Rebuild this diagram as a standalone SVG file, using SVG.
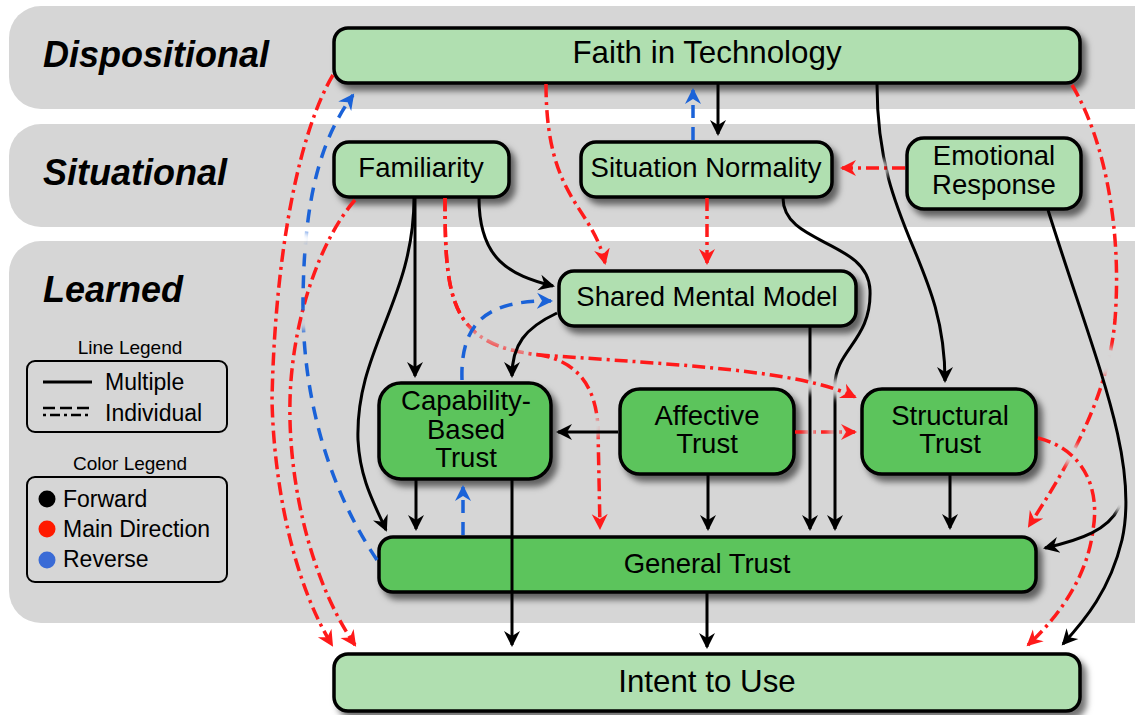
<svg xmlns="http://www.w3.org/2000/svg" width="1135" height="715" viewBox="0 0 1135 715">
<style>
.bandr{fill:#d6d6d6}
.band{font-family:"Liberation Sans",Arial,sans-serif;font-weight:bold;font-style:italic;font-size:36px;fill:#000}
.n{font-family:"Liberation Sans",Arial,sans-serif;font-size:27.5px;text-anchor:middle;fill:#000}
.big{font-size:31.3px}
.lt{font-family:"Liberation Sans",Arial,sans-serif;font-size:19px;text-anchor:middle;fill:#000}
.li{font-family:"Liberation Sans",Arial,sans-serif;font-size:23px;fill:#000}
.lbox{fill:none;stroke:#000;stroke-width:2}
.light{fill:#b0dfb0;stroke:#000;stroke-width:3.5;filter:url(#sh)}
.dark{fill:#5cc45c;stroke:#000;stroke-width:3.5;filter:url(#sh)}
.k{fill:none;stroke:#000;stroke-width:3;marker-end:url(#ak)}
.r{fill:none;stroke:#ff1a1a;stroke-width:3.5;stroke-dasharray:13 5 3 5;marker-end:url(#ar)}
.b{fill:none;stroke:#1a62d8;stroke-width:3.5;stroke-dasharray:13 9;marker-end:url(#ab)}
.hole{fill:#000}
.mw{fill:#fff}
</style>
<defs>
<filter id="sh" x="-10%" y="-20%" width="130%" height="160%">
<feDropShadow dx="5" dy="6" stdDeviation="3" flood-color="#000" flood-opacity="0.55"/>
</filter>
<filter id="fb" filterUnits="userSpaceOnUse" x="0" y="0" width="1135" height="715">
<feGaussianBlur stdDeviation="3.5"/>
</filter>
<marker id="ak" markerUnits="userSpaceOnUse" viewBox="0 -9 18 18" markerWidth="18" markerHeight="18" refX="14" refY="0" orient="auto"><path d="M0,-8 L16,0 L0,8 L5,0 Z" fill="#000"/></marker>
<marker id="ar" markerUnits="userSpaceOnUse" viewBox="0 -9 18 18" markerWidth="18" markerHeight="18" refX="14" refY="0" orient="auto"><path d="M0,-8 L16,0 L0,8 L5,0 Z" fill="#ff1a1a"/></marker>
<marker id="ab" markerUnits="userSpaceOnUse" viewBox="0 -9 18 18" markerWidth="18" markerHeight="18" refX="14" refY="0" orient="auto"><path d="M0,-8 L16,0 L0,8 L5,0 Z" fill="#1a62d8"/></marker>
<mask id="mFS" maskUnits="userSpaceOnUse" x="0" y="0" width="1135" height="715">
<rect class="mw" width="1135" height="715"/>
<g filter="url(#fb)"><circle class="hole" cx="879" cy="169" r="10"/></g>
</mask>
<mask id="mB1" maskUnits="userSpaceOnUse" x="0" y="0" width="1135" height="715">
<rect class="mw" width="1135" height="715"/>
<g filter="url(#fb)"><circle class="hole" cx="304" cy="240" r="10"/><circle class="hole" cx="304" cy="322" r="9"/></g>
</mask>
<mask id="mR8" maskUnits="userSpaceOnUse" x="0" y="0" width="1135" height="715">
<rect class="mw" width="1135" height="715"/>
<g filter="url(#fb)"><path d="M466,331 L526,352" stroke="#3a3a3a" stroke-width="14" stroke-linecap="round" fill="none"/></g>
</mask>
<mask id="mR9" maskUnits="userSpaceOnUse" x="0" y="0" width="1135" height="715">
<rect class="mw" width="1135" height="715"/>
<g filter="url(#fb)"><path d="M466,331 L526,352" stroke="#3a3a3a" stroke-width="14" stroke-linecap="round" fill="none"/><circle class="hole" cx="595" cy="427" r="10"/></g>
</mask>
<mask id="mL9" maskUnits="userSpaceOnUse" x="0" y="0" width="1135" height="715">
<rect class="mw" width="1135" height="715"/>
<g filter="url(#fb)"><circle class="hole" cx="810" cy="384" r="9"/></g>
</mask>
<mask id="mL10" maskUnits="userSpaceOnUse" x="0" y="0" width="1135" height="715">
<rect class="mw" width="1135" height="715"/>
<g filter="url(#fb)"><circle class="hole" cx="837" cy="388" r="10"/></g>
</mask>
<mask id="mR10" maskUnits="userSpaceOnUse" x="0" y="0" width="1135" height="715">
<rect class="mw" width="1135" height="715"/>
<g filter="url(#fb)"><circle class="hole" cx="810" cy="432" r="6"/><circle class="hole" cx="835" cy="432" r="6"/></g>
</mask>
<mask id="mR6" maskUnits="userSpaceOnUse" x="0" y="0" width="1135" height="715">
<rect class="mw" width="1135" height="715"/>
<g filter="url(#fb)"><circle class="hole" cx="1106" cy="362" r="15"/><circle class="hole" cx="1072" cy="455" r="11"/></g>
</mask>
<mask id="mL4" maskUnits="userSpaceOnUse" x="0" y="0" width="1135" height="715">
<rect class="mw" width="1135" height="715"/>
<g filter="url(#fb)"><circle class="hole" cx="1121" cy="502" r="11"/></g>
</mask>
</defs>
<rect width="1135" height="715" fill="#fff"/>
<g id="bands">
<rect class="bandr" x="9" y="6" width="1160" height="103" rx="32"/>
<rect class="bandr" x="9" y="124" width="1160" height="103" rx="32"/>
<rect class="bandr" x="9" y="241" width="1160" height="382" rx="32"/>
<text class="band" x="43" y="67">Dispositional</text>
<text class="band" x="43" y="185">Situational</text>
<text class="band" x="43" y="302">Learned</text>
</g>
<g id="legend">
<text class="lt" x="130" y="354">Line Legend</text>
<rect class="lbox" x="27" y="361" width="200" height="71" rx="8"/>
<line x1="43" y1="382" x2="92" y2="382" stroke="#000" stroke-width="3"/>
<text class="li" x="105" y="390">Multiple</text>
<line x1="43" y1="408" x2="92" y2="408" stroke="#000" stroke-width="2.5" stroke-dasharray="12 5"/>
<line x1="43" y1="415" x2="92" y2="415" stroke="#000" stroke-width="2.5" stroke-dasharray="3 4 10 4"/>
<text class="li" x="105" y="421">Individual</text>
<text class="lt" x="130" y="470">Color Legend</text>
<rect class="lbox" x="27" y="477" width="200" height="105" rx="8"/>
<circle cx="47" cy="499" r="8.5" fill="#000"/>
<text class="li" x="63" y="507">Forward</text>
<circle cx="47" cy="529" r="8.5" fill="#ff1a00"/>
<text class="li" x="63" y="537">Main Direction</text>
<circle cx="47" cy="560" r="8.5" fill="#3a6bd6"/>
<text class="li" x="63" y="567">Reverse</text>
</g>
<g id="node-faith">
<rect class="light" x="334" y="28" width="746" height="55" rx="14"/>
<text class="n big" x="707" y="63">Faith in Technology</text>
</g>
<g id="node-familiarity">
<rect class="light" x="334" y="142" width="175" height="55" rx="15"/>
<text class="n" x="421" y="177">Familiarity</text>
</g>
<g id="node-situation-normality">
<rect class="light" x="581" y="142" width="251" height="55" rx="15"/>
<text class="n" x="706" y="177">Situation Normality</text>
</g>
<g id="node-emotional-response">
<rect class="light" x="907" y="138" width="174" height="71" rx="17"/>
<text class="n" x="994" y="165">Emotional</text>
<text class="n" x="994" y="194">Response</text>
</g>
<g id="node-shared-mental-model">
<rect class="light" x="559" y="271" width="297" height="55" rx="15"/>
<text class="n" x="707" y="306">Shared Mental Model</text>
</g>
<g id="node-capability">
<rect class="dark" x="379" y="383" width="172" height="96" rx="22"/>
<text class="n" x="466" y="410">Capability-</text>
<text class="n" x="466" y="439">Based</text>
<text class="n" x="466" y="467">Trust</text>
</g>
<g id="node-affective">
<rect class="dark" x="620" y="389" width="174" height="85" rx="20"/>
<text class="n" x="707" y="425">Affective</text>
<text class="n" x="707" y="453">Trust</text>
</g>
<g id="node-structural">
<rect class="dark" x="862" y="389" width="174" height="85" rx="20"/>
<text class="n" x="950" y="425">Structural</text>
<text class="n" x="950" y="453">Trust</text>
</g>
<g id="node-general">
<rect class="dark" x="379" y="537" width="657" height="55" rx="14"/>
<text class="n" x="707" y="573">General Trust</text>
</g>
<g id="node-intent">
<rect class="light" x="334" y="654" width="746" height="57" rx="14"/>
<text class="n big" x="707" y="692">Intent to Use</text>
</g>
<g id="connectors">
<path class="r" d="M333,75 C300,130 275,250 272,400 C274,490 295,585 332,645"/>
<path class="r" d="M355,200 C320,240 292,320 290,400 C288,480 310,580 355,645"/>
<path class="r" d="M546,84 C546,200 592,205 605,263"/>
<path class="r" d="M707,198 L707,263"/>
<path class="r" d="M905,168 L842,168"/>
<path class="r" mask="url(#mR6)" d="M1072,85 C1105,140 1122,230 1115,320 C1108,400 1065,470 1029,526"/>
<path class="r" d="M1038,438 C1085,450 1100,490 1093,530 C1087,580 1055,620 1028,645"/>
<path class="r" mask="url(#mR8)" d="M445,198 C445,300 450,345 540,355 C680,365 800,370 855,397"/>
<path class="r" mask="url(#mR9)" d="M445,198 C445,300 450,345 540,355 C580,362 597,390 598,430 L600,528"/>
<path class="r" mask="url(#mR10)" d="M795,432 L855,432"/>
<path class="b" mask="url(#mB1)" d="M377,560 C330,490 302,400 303,300 C304,200 320,140 353,95"/>
<path class="b" d="M462,380 C460,320 490,300 551,301"/>
<path class="b" d="M463,535 L463,487"/>
<path class="b" d="M693,140 L693,90"/>
<path class="k" d="M718,84 L718,134"/>
<path class="k" mask="url(#mFS)" d="M877,84 C877,230 945,260 945,381"/>
<path class="k" d="M1048,210 C1095,360 1140,460 1122,540 C1110,590 1085,620 1063,644"/>
<path class="k" mask="url(#mL4)" d="M1120,505 C1110,530 1080,540 1045,548"/>
<path class="k" d="M415,198 L415,376"/>
<path class="k" d="M414,198 C414,300 355,350 358,440 C360,480 375,505 386,530"/>
<path class="k" d="M479,198 C479,260 510,275 553,286"/>
<path class="k" d="M557,313 C525,328 512,345 512,376"/>
<path class="k" mask="url(#mL9)" d="M810,327 L810,529"/>
<path class="k" mask="url(#mL10)" d="M783,198 C783,245 868,240 870,290 C872,340 835,350 835,385 L835,529"/>
<path class="k" d="M416,480 L416,529"/>
<path class="k" d="M512,480 L512,645"/>
<path class="k" d="M618,432 L558,432"/>
<path class="k" d="M708,475 L708,529"/>
<path class="k" d="M950,475 L950,528"/>
<path class="k" d="M707,593 L707,647"/>
</g>
</svg>
